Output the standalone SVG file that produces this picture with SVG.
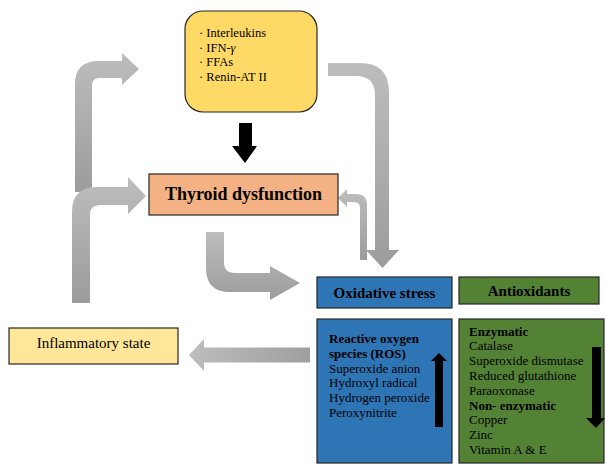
<svg xmlns="http://www.w3.org/2000/svg" width="605" height="466" viewBox="0 0 605 466">
<defs>
<linearGradient id="gv" x1="0" y1="0" x2="0" y2="1">
<stop offset="0" stop-color="#bdbdbd"/><stop offset="1" stop-color="#9c9c9c"/>
</linearGradient>
<linearGradient id="gh" x1="0" y1="0" x2="1" y2="0">
<stop offset="0" stop-color="#bdbdbd"/><stop offset="1" stop-color="#9f9f9f"/>
</linearGradient>
<style>
text{font-family:"Liberation Serif","Times New Roman",serif;fill:#000}
.b{font-weight:bold}
.box{stroke:#262626;stroke-width:1.2}
.s{font-size:12.5px}
.l{font-size:13px}
.ar{fill:url(#gv)}
</style>
</defs>
<rect width="605" height="466" fill="#fff"/>
<g id="connectors">
<path class="ar" d="M75,192 V84 Q75,61 99,61 H122 V53 L139,69 L122,85 V78 H99 Q92,78 92,86 V192 Z"/>
<path class="ar" d="M72,303 V212 Q72,187 97,187 H128 V177 L146,196 L128,214 V205 H100 Q90,205 90,215 V303 Z"/>
<path class="ar" d="M328,63 H360 Q389,63 389,92 V250 H399 L382.5,268 L366,250 H375 V95 Q375,76 356,76 H328 Z"/>
<path class="ar" d="M360,260 V208 Q360,202 354,202 H347 V207 L338,198 L347,189 V194 H356 Q367,194 367,205 V260 Z"/>
<path class="ar" d="M206,232 H224 V262 Q224,273 235,273 H270 V266 L300,283 L270,300 V292 H230 Q206,292 206,268 Z"/>
<path fill="url(#gh)" d="M310,347.5 H204 V339 L189,355 L204,371 V362.5 H310 Z"/>
<path fill="#000" d="M239,123 H252 V146 H257 L245,163 L232,146 H239 Z"/>
</g>
<g id="factors">
<rect class="box" x="185" y="11" width="132" height="101" rx="18" fill="#FFD966"/>
<text class="s" x="199" y="37">· Interleukins</text>
<text class="s" x="199" y="51.5">· IFN-<tspan font-style="italic">γ</tspan></text>
<text class="s" x="199" y="66">· FFAs</text>
<text class="s" x="199" y="80.5">· Renin-AT II</text>
</g>
<g id="thyroid">
<rect class="box" x="149" y="174" width="189" height="41" fill="#F4B183"/>
<text class="b" x="243.5" y="200" font-size="18" text-anchor="middle">Thyroid dysfunction</text>
</g>
<g id="oxidative">
<rect class="box" x="317" y="277" width="135" height="31" fill="#2E75B6"/>
<text class="b" x="384.5" y="298" font-size="15" text-anchor="middle">Oxidative stress</text>
</g>
<g id="antioxidants">
<rect class="box" x="459" y="277" width="140" height="27" fill="#548235"/>
<text class="b" x="529" y="296" font-size="15" text-anchor="middle">Antioxidants</text>
</g>
<g id="ros">
<rect class="box" x="317" y="319" width="135" height="144" fill="#2E75B6"/>
<text class="l b" x="329" y="343">Reactive oxygen</text>
<text class="l b" x="329" y="357.8">species (ROS)</text>
<text class="l" x="329" y="372.6">Superoxide anion</text>
<text class="l" x="329" y="387.4">Hydroxyl radical</text>
<text class="l" x="329" y="402.2">Hydrogen peroxide</text>
<text class="l" x="329" y="417">Peroxynitrite</text>
<path fill="#000" d="M435,427 V361 H431 L439,353 L447,361 H443 V427 Z"/>
</g>
<g id="antioxidant-list">
<rect class="box" x="459" y="319" width="145" height="144" fill="#548235"/>
<text class="l b" x="469" y="335.5">Enzymatic</text>
<text class="l" x="469" y="350.3">Catalase</text>
<text class="l" x="469" y="365.1">Superoxide dismutase</text>
<text class="l" x="469" y="379.9">Reduced glutathione</text>
<text class="l" x="469" y="394.7">Paraoxonase</text>
<text class="l b" x="469" y="409.5">Non- enzymatic</text>
<text class="l" x="469" y="424.3">Copper</text>
<text class="l" x="469" y="439.1">Zinc</text>
<text class="l" x="469" y="453.9">Vitamin A &amp; E</text>
<path fill="#000" d="M592,347 H601 V418 H605 L596,428 L586,418 H592 Z"/>
</g>
<g id="inflammatory">
<rect class="box" x="9" y="328" width="169" height="36" fill="#FFE699"/>
<text x="93.5" y="347.5" font-size="15" text-anchor="middle">Inflammatory state</text>
</g>
</svg>
